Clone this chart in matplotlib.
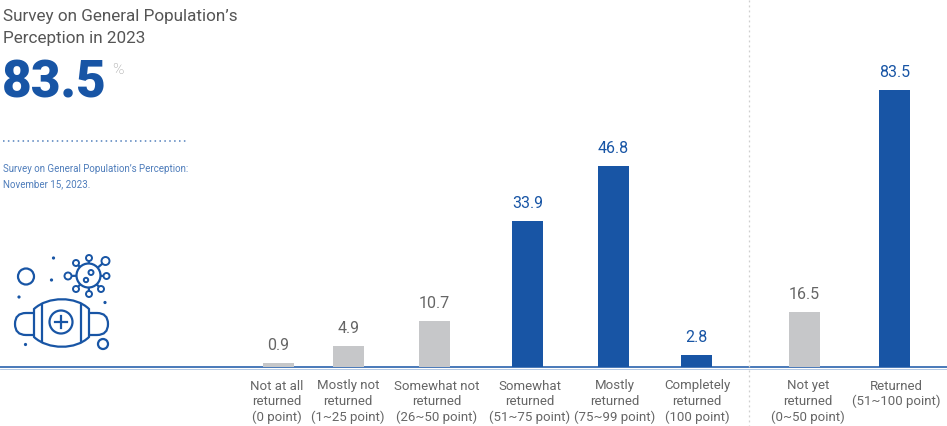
import matplotlib
matplotlib.use("Agg")
import matplotlib.pyplot as plt
from matplotlib.patches import Circle, FancyBboxPatch, PathPatch
from matplotlib.path import Path

plt.rcParams['font.family'] = ['Roboto', 'DejaVu Sans']

W, H = 947, 426
BLUE = '#1855a5'
GREY = '#c6c7c9'
TXT = '#666666'

# detail panel
det_labels = ['Not at all\nreturned\n(0 point)', 'Mostly not\nreturned\n(1~25 point)',
              'Somewhat not\nreturned\n(26~50 point)', 'Somewhat\nreturned\n(51~75 point)',
              'Mostly\nreturned\n(75~99 point)', 'Completely\nreturned\n(100 point)']
det_values = [0.9, 4.9, 10.7, 33.9, 46.8, 2.8]
det_colors = [GREY, GREY, GREY, BLUE, BLUE, BLUE]
det_x = [278.5, 348.5, 434.5, 527.5, 613.5, 696.5]
det_lab_x = [277, 348, 437, 530, 615, 697]

# summary panel
sum_labels = ['Not yet\nreturned\n(0~50 point)', 'Returned\n(51~100 point)\n']
sum_values = [16.5, 83.5]
sum_colors = [GREY, BLUE]
sum_x = [804.5, 894.5]
sum_lab_x = [808, 896]

BASE = 367  # baseline in pixels


def bar_axes(x0, x1, top, ymax):
    # axes placed in pixels, xlim stays in pixels too so bars line up with labels
    ax = fig.add_axes([x0 / W, 1 - BASE / H, (x1 - x0) / W, (BASE - top) / H])
    ax.set_xlim(x0, x1)
    ax.set_ylim(0, ymax)
    ax.axis('off')
    ax.patch.set_alpha(0)
    return ax


def draw_bars(ax, xs, vals, cols, lab_xs, labels):
    ax.bar(xs, vals, width=31, color=cols)
    for x, v, c in zip(xs, vals, cols):
        ax.annotate(f'{v}', (x, v), xytext=(0, 10), textcoords='offset pixels',
                    ha='center', va='bottom', fontsize=11.5,
                    color=BLUE if c == BLUE else TXT)
    for x, l in zip(lab_xs, labels):
        bg.text(x, 379.5, l, ha='center', va='top', fontsize=9.5, color=TXT,
                linespacing=1.24)


fig = plt.figure(figsize=(W / 100, H / 100), dpi=100)

bg = fig.add_axes([0, 0, 1, 1])
bg.set_xlim(0, W)
bg.set_ylim(H, 0)
bg.axis('off')

# 4.3 px per unit on the left, 3.32 on the right
ax1 = bar_axes(230, 748, 367 - 4.3 * 50, 50)
ax2 = bar_axes(748, 947, 367 - 3.32 * 90, 90)
draw_bars(ax1, det_x, det_values, det_colors, det_lab_x, det_labels)
draw_bars(ax2, sum_x, sum_values, sum_colors, sum_lab_x, sum_labels)

# baseline and divider
bg.plot([0, W], [367, 367], color=BLUE, lw=1.1)
bg.plot([0, W], [368.5, 368.5], color='#a9c1e0', lw=0.6)
bg.plot([748.5, 748.5], [0, H], color='#cfcfcf', lw=0.9, ls=(0, (1.5, 2.5)))

# left text block
bg.text(3, 16, "Survey on General Population’s", fontsize=12.3, color='#555555', va='center')
bg.text(3, 38, "Perception in 2023", fontsize=12.3, color='#555555', va='center')
bg.text(2, 83.5, "83.5", fontsize=37, color=BLUE, va='center', fontweight='black')
bg.text(112, 69.5, "%", fontsize=11, color='#999999', va='center', fontweight='light')
bg.plot([3, 186], [141, 141], color=BLUE, lw=1.1, ls=(0, (1, 2.2)), alpha=0.75)
bg.text(3, 168.5, "Survey on General Population’s Perception:", fontsize=7.05, color='#4f7dbb', va='center')
bg.text(3, 184.5, "November 15, 2023.", fontsize=7.05, color='#4f7dbb', va='center')

# mask icon
LW = 1.6


def ring(x, y, r, lw=LW):
    bg.add_patch(Circle((x, y), r, fc='white', ec=BLUE, lw=lw, zorder=3))


def dot(x, y):
    bg.add_patch(Circle((x, y), 1.6, fc=BLUE, ec='none'))


# ear loops
bg.add_patch(FancyBboxPatch((15, 313), 93, 22, boxstyle='round,pad=0,rounding_size=11',
                            fc='white', ec=BLUE, lw=LW))
# mask body
body = Path([(34, 309), (48, 296), (76, 296), (89, 309), (89, 337), (76, 350), (48, 350), (34, 337), (34, 309)],
            [Path.MOVETO, Path.CURVE4, Path.CURVE4, Path.CURVE4, Path.LINETO,
             Path.CURVE4, Path.CURVE4, Path.CURVE4, Path.CLOSEPOLY])
bg.add_patch(PathPatch(body, fc='white', ec=BLUE, lw=LW, zorder=3))
bg.plot([41.5, 41.5], [304, 342], color=BLUE, lw=LW, zorder=4)
bg.plot([80.5, 80.5], [304, 342], color=BLUE, lw=LW, zorder=4)
bg.add_patch(Circle((61, 322), 11.5, fc='white', ec=BLUE, lw=LW, zorder=4))
bg.plot([61, 61], [316, 328], color=BLUE, lw=LW, zorder=5)
bg.plot([55, 67], [322, 322], color=BLUE, lw=LW, zorder=5)

# virus
for x, y in [(76, 263), (89, 258), (105.5, 261), (68, 276), (106, 276), (76, 289), (89, 294), (101, 289)]:
    bg.plot([88.5, x], [275.5, y], color=BLUE, lw=LW, zorder=2)
ring(88.5, 275.5, 12)
for x, y, r in [(76, 263, 3), (89, 258, 3), (105.5, 261, 4), (68, 276, 3.5), (106.5, 276, 3),
                (76, 289, 3), (89, 294, 3), (101, 289, 3), (91, 272.5, 2.5), (86, 280, 2.2)]:
    ring(x, y, r, lw=1.4)

ring(26, 276.5, 8)
ring(103, 344, 5)
for x, y in [(53.5, 258), (51.5, 280), (19, 297), (105, 302.5), (25.5, 344.5)]:
    dot(x, y)

fig.savefig('out.png', dpi=100)
